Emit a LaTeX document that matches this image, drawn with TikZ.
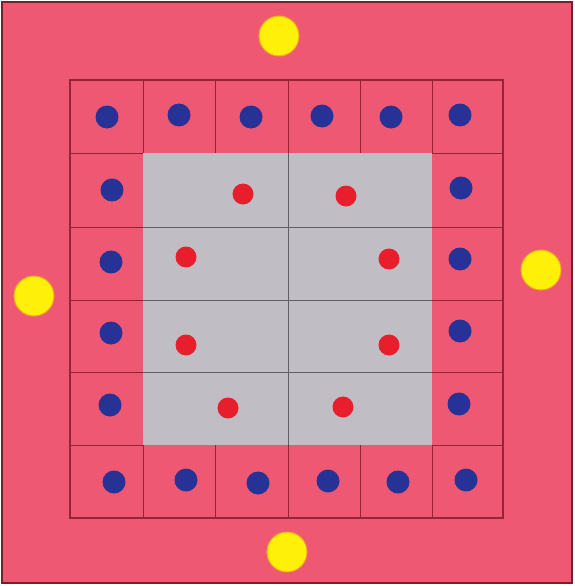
\documentclass[tikz,border=0pt]{standalone}
\usetikzlibrary{positioning}
\definecolor{framepink}{RGB}{238,88,114}
\definecolor{framedark}{RGB}{120,30,45}
\definecolor{gridred}{RGB}{150,35,55}
\definecolor{coregray}{RGB}{192,190,196}
\definecolor{gridgray}{RGB}{95,95,105}
\definecolor{dotblue}{RGB}{38,50,150}
\definecolor{dotred}{RGB}{232,30,45}
\definecolor{sunyellow}{RGB}{255,240,10}
\definecolor{sunorange}{RGB}{240,170,30}
\tikzset{
  bluedot/.style={fill=dotblue},
  reddot/.style={fill=dotred},
  sundot/.style={fill=sunyellow, draw=sunorange, line width=1pt}
}
\begin{document}
\begin{tikzpicture}[x=1pt, y=-1pt]
    \useasboundingbox (0,0) rectangle (575,586);
    % Outer Frame
    \draw[fill=framepink, draw=framedark, line width=1.5pt] (2,2) rectangle (572,583);

    % Gray Core
    \fill[coregray] (143,153) rectangle (432,445);
    \draw[gridgray, line width=0.7pt] (288,153) -- (288,445);
    \foreach \y in {227,300,372}
        \draw[gridgray, line width=0.7pt] (143,\y) -- (432,\y);

    % Pink Ring of Cells
    \foreach \x in {143,215,288,360,432} {
        \draw[gridred, line width=0.6pt] (\x,80) -- (\x,153);
        \draw[gridred, line width=0.6pt] (\x,445) -- (\x,518);
    }
    \foreach \y in {153,227,300,372,445} {
        \draw[gridred, line width=0.6pt] (70,\y) -- (143,\y);
        \draw[gridred, line width=0.6pt] (432,\y) -- (503,\y);
    }
    \draw[gridred, line width=1.5pt] (70,80) rectangle (503,518);

    % Blue Dots
    \foreach \x/\y in {107/117, 179/115, 251/117, 322/116, 391/117, 460/115,
                       112/190, 461/188, 111/262, 460/259, 111/333, 460/331,
                       110/405, 459/404,
                       114/482, 186/480, 258/483, 328/481, 398/482, 466/480}
        \fill[bluedot] (\x,\y) circle (11.5);

    % Red Dots
    \foreach \x/\y in {243/194, 346/196, 186/257, 389/259,
                       186/345, 389/345, 228/408, 343/407}
        \fill[reddot] (\x,\y) circle (10.5);

    % Yellow Dots
    \foreach \x/\y in {279/36, 34/296, 541/270, 287/552}
        \draw[sundot] (\x,\y) circle (20);
\end{tikzpicture}
\end{document}
